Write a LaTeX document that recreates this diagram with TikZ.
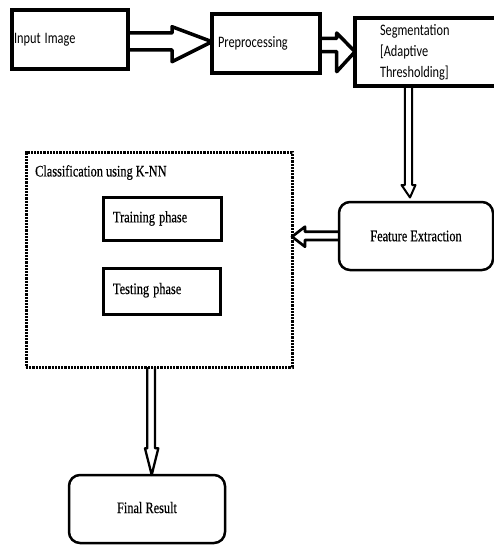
\documentclass[tikz,border=0pt]{standalone}
\usepackage{fontspec}
\usepackage{graphicx}
\setmainfont[FakeBold=0.4,AutoFakeBold=0.4]{Liberation Serif}
\newfontfamily\calfont{Carlito}
\usetikzlibrary{calc}
\newcommand\sqz[1]{\scalebox{0.77}[1]{#1}}
\begin{document}
\begin{tikzpicture}[x=1pt,y=-1pt,
  box/.style={draw=black, rectangle, outer sep=0pt, align=left},
  rbox/.style={draw=black, rectangle, rounded corners=11pt, outer sep=0pt, align=center, line width=2.5pt},
  topfont/.style={font=\fontsize{16}{21}\selectfont\calfont},
  lowfont/.style={font=\fontsize{16}{19}\selectfont},
  harrow/.style={draw=black, line join=round, fill=none}
]
\clip (0,0) rectangle (494,556);
\fill[white] (0,0) rectangle (494,556);

% top row
\node[box, topfont, line width=4pt, minimum width=116pt, minimum height=59pt,
      text width=112pt, inner xsep=2pt] (in) at (70,39.5) {\sqz{Input Image}};
\node[box, topfont, line width=3.2pt, minimum width=108pt, minimum height=59pt,
      text width=96pt, inner xsep=6pt] (pre) at (266,43.5) {\sqz{Preprocessing}};
\node[box, topfont, line width=3.5pt, minimum width=145pt, minimum height=68pt,
      text width=95pt, inner xsep=25pt] (seg) at (427.5,52)
      {\sqz{Segmentation}\\\sqz{[Adaptive}\\\sqz{Thresholding]}};

% feature extraction
\node[rbox, lowfont, minimum width=154pt, minimum height=68pt] (fe) at (416,236) {\sqz{Feature Extraction}};

% classification container
\node[draw=black, rectangle, outer sep=0pt, line width=3pt, dash pattern=on 2.2pt off 1pt,
      minimum width=266pt, minimum height=214pt,
      label={[anchor=north west, inner sep=0pt, lowfont, xshift=9pt, yshift=-12pt]north west:\sqz{Classification using K-NN}}]
      (cls) at (159,260) {};
\node[box, lowfont, line width=3pt, minimum width=118pt, minimum height=43pt,
      text width=98pt, inner xsep=10pt] (train) at (162,218.5) {\raisebox{3pt}{\sqz{Training phase}}};
\node[box, lowfont, line width=3pt, minimum width=117pt, minimum height=46pt,
      text width=97pt, inner xsep=10pt] (test) at (161.5,291) {\raisebox{5pt}{\sqz{Testing phase}}};

% final result
\node[rbox, lowfont, minimum width=156pt, minimum height=68pt] (fin) at (147,509) {\raisebox{3pt}{\sqz{Final Result}}};

% arrow: input -> preprocessing
\draw[harrow, line width=3.5pt]
  ($(in.east)+(0,-6.5)$) -- ($(in.east)+(44,-6.5)$) -- ($(in.east)+(44,-12.8)$)
  -- ($(pre.west)+(0,-1.8)$)
  -- ($(in.east)+(44,22.2)$) -- ($(in.east)+(44,10.5)$) -- ($(in.east)+(0,10.5)$);

% arrow: preprocessing -> segmentation
\draw[harrow, line width=3.5pt]
  ($(pre.east)+(0,-5.2)$) -- ($(pre.east)+(16.7,-5.2)$) -- ($(pre.east)+(16.7,-10.5)$)
  -- ($(seg.west)+(0,-0.3)$)
  -- ($(pre.east)+(16.7,28.2)$) -- ($(pre.east)+(16.7,8.2)$) -- ($(pre.east)+(0,8.2)$);

% arrow: segmentation -> feature extraction
\draw[harrow, line width=2pt]
  ($(seg.south)+(-22.7,0)$) -- ($(seg.south)+(-22.7,99)$) -- ($(seg.south)+(-26,99)$)
  -- ($(fe.north)+(-6,-4.5)$)
  -- ($(seg.south)+(-12,99)$) -- ($(seg.south)+(-15.3,99)$) -- ($(seg.south)+(-15.3,0)$);

% arrow: feature extraction -> classification
\draw[harrow, line width=2.7pt]
  ($(fe.west)+(0,-4.3)$) -- ($(fe.west)+(-34,-4.3)$) -- ($(fe.west)+(-34,-9.3)$)
  -- ($(cls.east |- fe.west)+(0,0.7)$)
  -- ($(fe.west)+(-34,10.7)$) -- ($(fe.west)+(-34,4)$) -- ($(fe.west)+(0,4)$);

% arrow: classification -> final result
\draw[harrow, line width=2.3pt]
  ($(cls.south)+(-11.7,0)$) -- ($(cls.south)+(-11.7,81.3)$) -- ($(cls.south)+(-14,81.3)$)
  -- ($(fin.north)+(4.7,0)$)
  -- ($(cls.south)+(-0.7,81.3)$) -- ($(cls.south)+(-4,81.3)$) -- ($(cls.south)+(-4,0)$);
\end{tikzpicture}
\end{document}
